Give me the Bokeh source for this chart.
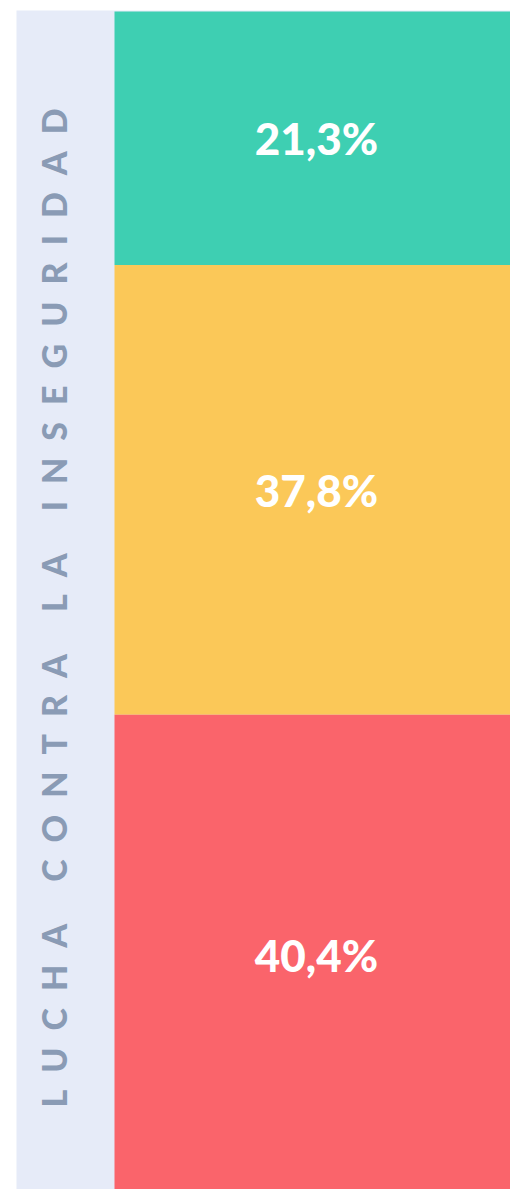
import math
from bokeh.plotting import figure
from bokeh.models import Range1d, ColumnDataSource
from bokeh.core.properties import value
from bokeh.embed import file_html
from bokeh.resources import INLINE

# ---- data ----
categories = ["top", "middle", "bottom"]
values = [21.3, 37.8, 40.4]
labels = ["21,3%", "37,8%", "40,4%"]
colors = ["#3ECFB2", "#FBC858", "#FA646B"]
title = "LUCHA CONTRA LA INSEGURIDAD"

# ---- layout ----
W, H = 510, 1189
total = sum(values)
px_per_unit = 11.9
y_end = total + 11 / px_per_unit
y_start = y_end - H / px_per_unit

p = figure(width=W, height=H, output_backend="svg", toolbar_location=None,
           x_range=Range1d(0, W), y_range=Range1d(y_start, y_end),
           min_border=0, outline_line_color=None)
p.axis.visible = False
p.grid.visible = False
p.background_fill_color = "white"
p.border_fill_color = "white"
p.extra_y_ranges = {"px": Range1d(H, 0)}

# side band
p.quad(left=16, right=W + 5, bottom=H + 5, top=10, y_range_name="px",
       fill_color="#E6EBF8", line_color=None)

# stacked bars: bottom segment is the last value
tops, bottoms = [], []
acc = 0.0
for v in reversed(values):
    bottoms.append(acc)
    acc += v
    tops.append(acc)
tops = list(reversed(tops))
bottoms = list(reversed(bottoms))
src = ColumnDataSource(dict(cat=categories, top=tops, bottom=bottoms, color=colors,
                            label=labels, mid=[(t + b) / 2 for t, b in zip(tops, bottoms)],
                            x=[316] * 3))
p.quad(left=114, right=W + 5, bottom="bottom", top="top", fill_color="color",
       line_color=None, source=src)
p.text(x="x", y="mid", text="label", source=src, text_color="white",
       text_font=value("'Lato Black', Lato"), text_font_style="bold", text_font_size="44px",
       text_align="center", text_baseline="middle")

# vertical spaced title
gap = "\u2002"
spaced = (gap + " " + gap).join(gap.join(list(w)) for w in title.split(" "))
p.text(x=[53], y=[607.5], text=[spaced], y_range_name="px", angle=math.pi / 2,
       text_color="#8A9BB5", text_font=value("'Lato Black', Lato"), text_font_style="bold",
       text_font_size="34px", text_align="center", text_baseline="middle")

open("out.html", "w").write(file_html(p, INLINE))
